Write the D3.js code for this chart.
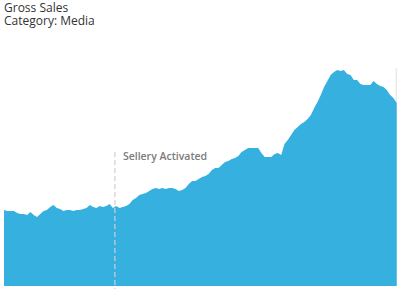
<!DOCTYPE html>
<html>
<head>
<meta charset="utf-8">
<script src="https://cdn.jsdelivr.net/npm/d3@7"></script>
<style>
  body { margin: 0; background: #fff; }
  svg { display: block; }
  .title { font-family: "Open Sans", sans-serif; font-size: 12px; fill: #333; }
  .event-label { font-family: "Open Sans", sans-serif; font-size: 10.5px; font-weight: 600; fill: #7b7b7b; }
</style>
</head>
<body>
<div id="chart"></div>
<script>
// weekly gross sales (thousands)
const weeks = d3.range(120);
const sales = [
  76, 75, 75, 75, 73, 72, 72, 71, 74, 71, 69, 72, 75, 76, 79, 81, 78, 77, 75, 76,
  76, 75, 76, 76, 77, 78, 81, 79, 78, 80, 79, 80, 82, 78, 80, 78, 79, 80, 82, 86,
  88, 91, 92, 93, 95, 97, 98, 97, 98, 97, 98, 98, 97, 95, 96, 98, 102, 105, 105, 107,
  109, 110, 112, 116, 118, 118, 121, 124, 125, 127, 128, 130, 134, 136, 138, 138, 138, 138, 133, 129,
  129, 129, 132, 133, 131, 142, 146, 151, 156, 159, 162, 164, 167, 171, 178, 184, 191, 199, 205, 211,
  214, 216, 215, 216, 212, 211, 206, 206, 202, 201, 201, 201, 205, 202, 200, 199, 196, 191, 188, 183
];
const titleLines = ["Gross Sales", "Category: Media"];
const activationWeek = 33.6;
const activationLabel = "Sellery Activated";

const width = 400, height = 289;
const margin = { top: 66, right: 3.3, bottom: 3, left: 4 };

const svg = d3.select("#chart").append("svg")
  .attr("width", width)
  .attr("height", height);

svg.selectAll(".title")
  .data(titleLines)
  .join("text")
  .attr("class", "title")
  .attr("x", 4)
  .attr("y", (d, i) => 11.5 + i * 13.5)
  .text(d => d);

const x = d3.scaleLinear()
  .domain(d3.extent(weeks))
  .range([margin.left, width - margin.right]);

const y = d3.scaleLinear()
  .domain([0, 220])
  .range([height - margin.bottom, margin.top]);

const data = weeks.map((w, i) => ({ week: w, value: sales[i] }));

// faint right border of the plot
svg.append("line")
  .attr("x1", x(weeks[weeks.length - 1]) - 0.5)
  .attr("x2", x(weeks[weeks.length - 1]) - 0.5)
  .attr("y1", y(218))
  .attr("y2", y(0))
  .attr("stroke", "#e2e2e2")
  .attr("stroke-width", 1);

const area = d3.area()
  .x(d => x(d.week))
  .y0(y(0))
  .y1(d => y(d.value));

svg.append("path")
  .datum(data)
  .attr("fill", "#35b0df")
  .attr("d", area);

// activation marker
svg.append("line")
  .attr("x1", x(activationWeek))
  .attr("x2", x(activationWeek))
  .attr("y1", y(134))
  .attr("y2", height)
  .attr("stroke", "#cfcfcf")
  .attr("stroke-opacity", 0.8)
  .attr("stroke-width", 1.5)
  .attr("stroke-dasharray", "5,3");

svg.append("text")
  .attr("class", "event-label")
  .attr("x", x(activationWeek) + 8)
  .attr("y", y(126))
  .text(activationLabel);
</script>
</body>
</html>
